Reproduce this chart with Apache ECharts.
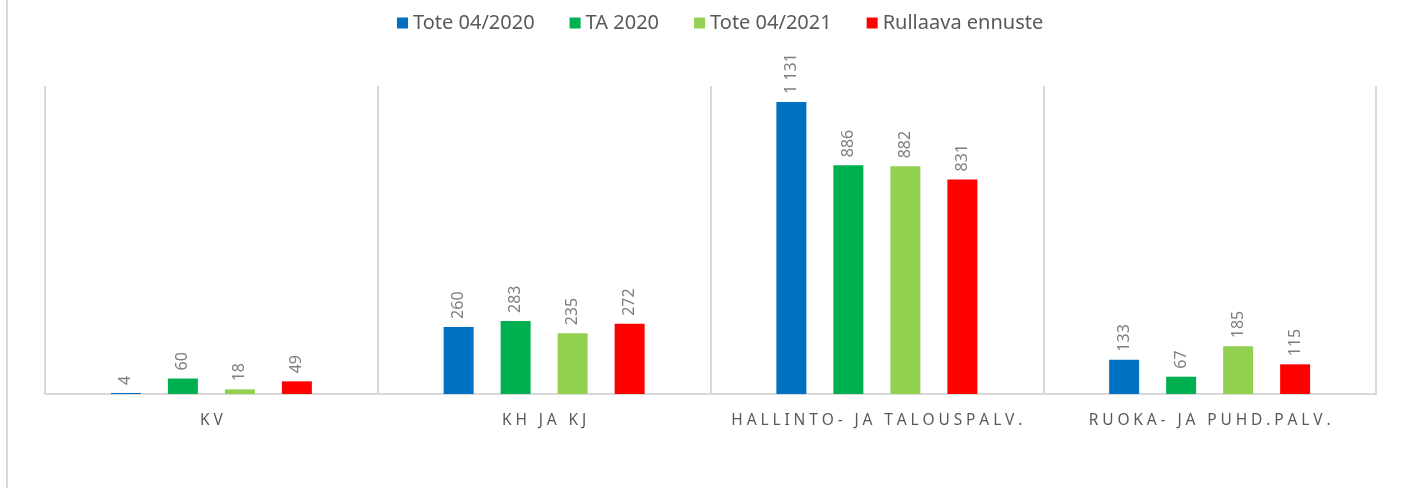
<!DOCTYPE html>
<html>
<head>
<meta charset="utf-8">
<script src="https://cdn.jsdelivr.net/npm/echarts@6/dist/echarts.min.js"></script>
<style>
  html, body { margin: 0; padding: 0; background: #fff; }
  #chart { width: 1417px; height: 488px; }
</style>
</head>
<body>
<div id="chart"></div>
<script>
const categories = ['KV', 'KH JA KJ', 'HALLINTO- JA TALOUSPALV.', 'RUOKA- JA PUHD.PALV.']
const tote2020 = [4, 260, 1131, 133]
const ta2020 = [60, 283, 886, 67]
const tote2021 = [18, 235, 882, 185]
const ennuste = [49, 272, 831, 115]

const seriesDefs = [
  { name: 'Tote 04/2020', data: tote2020, color: '#0070c0' },
  { name: 'TA 2020', data: ta2020, color: '#00b050' },
  { name: 'Tote 04/2021', data: tote2021, color: '#92d050' },
  { name: 'Rullaava ennuste', data: ennuste, color: '#ff0000' }
]

// 1131 -> "1 131"
const fmt = v => String(v).replace(/\B(?=(\d{3})+(?!\d))/g, ' ')
// wide letter spacing on the category labels
const spaced = s => s.split('').join('\u2005')

const chart = echarts.init(document.getElementById('chart'))

chart.setOption({
  animation: false,
  textStyle: { fontFamily: 'Noto Sans' },
  legend: {
    top: 8,
    left: 392,
    itemWidth: 11,
    itemHeight: 11,
    itemGap: 35,
    icon: 'rect',
    textStyle: { fontSize: 20, color: '#595959', fontFamily: 'Noto Sans' }
  },
  grid: { left: 45, right: 41, top: 86, bottom: 94 },
  xAxis: {
    type: 'category',
    data: categories,
    axisLine: { lineStyle: { color: '#d9d9d9', width: 2 } },
    axisTick: { show: false },
    splitLine: { show: true, lineStyle: { color: '#d9d9d9', width: 2 } },
    axisLabel: {
      interval: 0,
      margin: 19,
      fontSize: 15.5,
      color: '#595959',
      formatter: v => spaced(v)
    }
  },
  yAxis: {
    type: 'value',
    min: 0,
    max: 1193,
    show: false,
    splitLine: { show: false }
  },
  graphic: [{
    type: 'line',
    shape: { x1: 7, y1: 0, x2: 7, y2: 488 },
    style: { stroke: '#d9d9d9', lineWidth: 2 }
  }],
  series: seriesDefs.map(s => ({
    name: s.name,
    type: 'bar',
    data: s.data,
    barWidth: 30,
    barGap: '90%',
    itemStyle: { color: s.color },
    label: {
      show: true,
      position: 'top',
      rotate: 90,
      align: 'left',
      verticalAlign: 'middle',
      distance: 8,
      fontSize: 16,
      color: '#7f7f7f',
      formatter: p => fmt(p.value)
    }
  }))
})
</script>
</body>
</html>
